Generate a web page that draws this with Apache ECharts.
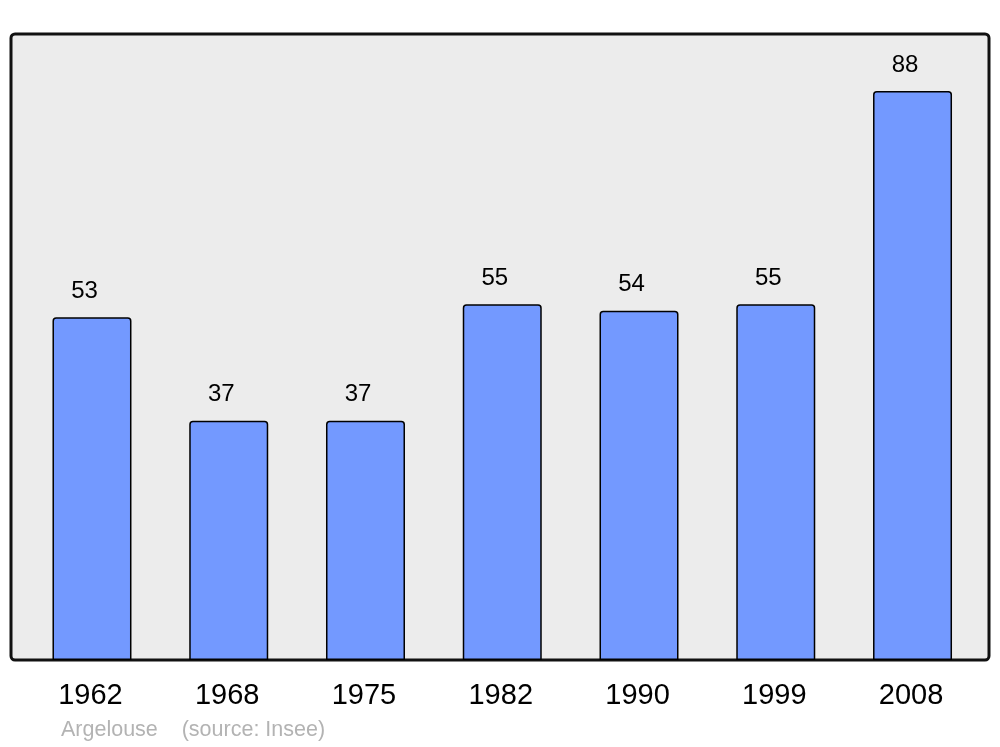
<!DOCTYPE html>
<html>
<head>
<meta charset="utf-8">
<script src="https://cdn.jsdelivr.net/npm/echarts@6/dist/echarts.min.js"></script>
<style>html,body{margin:0;padding:0;background:#fff;}#c{width:1000px;height:747px;}</style>
</head>
<body>
<div id="c"></div>
<script>
const categories = ['1962', '1968', '1975', '1982', '1990', '1999', '2008'];
const population = [53, 37, 37, 55, 54, 55, 88];
const footerText = 'Argelouse    (source: Insee)';

const chart = echarts.init(document.getElementById('c'), null, {renderer: 'canvas'});
chart.setOption({
  animation: false,
  backgroundColor: '#ffffff',
  textStyle: {fontFamily: 'Liberation Sans, Arial, sans-serif'},
  grid: {left: 23.6, right: 19.1, top: 34, bottom: 87},
  graphic: [
    {
      type: 'rect', z: -10, silent: true,
      shape: {x: 11, y: 34, width: 978, height: 626, r: 4},
      style: {fill: '#ececec', stroke: '#111111', lineWidth: 3}
    },
    {
      type: 'text', left: 61, top: 719, silent: true,
      style: {text: footerText, fill: '#b3b3b3', font: '21.5px "Liberation Sans", Arial, sans-serif'}
    }
  ],
  xAxis: {
    type: 'category',
    data: categories,
    axisLine: {show: false},
    axisTick: {show: false},
    axisLabel: {color: '#000', fontSize: 29, margin: 21, padding: [0, 3, 0, 0], fontFamily: 'Liberation Sans, Arial, sans-serif'}
  },
  yAxis: {
    type: 'value', min: 0, max: 96.8, show: false,
    splitLine: {show: false}
  },
  series: [{
    type: 'bar',
    data: population,
    barWidth: 79,
    itemStyle: {color: '#7399ff', borderColor: '#000', borderWidth: 1.5, borderRadius: [3, 3, 0, 0]},
    label: {
      show: true, position: 'top', distance: 14, offset: [-7.5, 0],
      color: '#000', fontSize: 24, fontFamily: 'Liberation Sans, Arial, sans-serif'
    }
  }]
});
</script>
</body>
</html>
